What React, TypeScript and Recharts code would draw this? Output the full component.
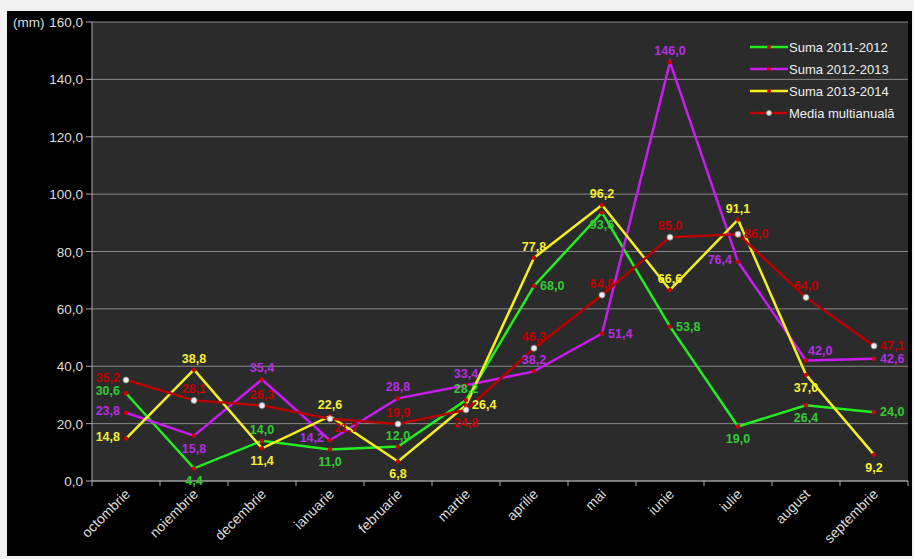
import React from 'react';
import { LineChart, Line, XAxis, YAxis, CartesianGrid, LabelList } from 'recharts';

const months = [
  'octombrie', 'noiembrie', 'decembrie', 'ianuarie', 'februarie', 'martie',
  'aprilie', 'mai', 'iunie', 'iulie', 'august', 'septembrie',
];
const suma20112012 = [30.6, 4.4, 14.0, 11.0, 12.0, 28.2, 68.0, 93.6, 53.8, 19.0, 26.4, 24.0];
const suma20122013 = [23.8, 15.8, 35.4, 14.2, 28.8, 33.4, 38.2, 51.4, 146.0, 76.4, 42.0, 42.6];
const suma20132014 = [14.8, 38.8, 11.4, 22.6, 6.8, 26.4, 77.8, 96.2, 66.6, 91.1, 37.0, 9.2];
const mediaMultianuala = [35.2, 28.1, 26.3, 21.7, 19.9, 24.8, 46.3, 64.8, 85.0, 86.0, 64.0, 47.1];
const yTicks = [0, 20, 40, 60, 80, 100, 120, 140, 160];

// where each value label sits around its point (t/b/l/r, tr = above right, br = below right)
type Pos = 't' | 'b' | 'l' | 'r' | 'tr' | 'br';
const greenPos: Pos[] = ['l', 'b', 't', 'b', 't', 't', 'r', 'b', 'r', 'b', 'b', 'r'];
const purplePos: Pos[] = ['l', 'b', 't', 'l', 't', 't', 't', 'r', 't', 'l', 'tr', 'r'];
const yellowPos: Pos[] = ['l', 't', 'b', 't', 'b', 'r', 't', 't', 't', 't', 'b', 'b'];
const redPos: Pos[] = ['l', 't', 't', 'br', 't', 'b', 't', 't', 't', 'r', 't', 'r'];

const data = months.map((m, i) => ({
  month: m,
  s1: suma20112012[i],
  s2: suma20122013[i],
  s3: suma20132014[i],
  media: mediaMultianuala[i],
}));

const FONT = '"Liberation Sans", Arial, sans-serif';
const fmt = (v: number) => v.toFixed(1).replace('.', ',');

const makeLabel = (color: string, pos: Pos[]) => (props: any) => {
  const { x, y, value, index } = props;
  const p = pos[index] ?? 't';
  let dx = 0;
  let dy = -7;
  let anchor: 'middle' | 'start' | 'end' = 'middle';
  if (p === 'b') dy = 17;
  if (p === 'l') { dx = -6; dy = 2; anchor = 'end'; }
  if (p === 'r') { dx = 6; dy = 4; anchor = 'start'; }
  if (p === 'tr') { dx = 2; dy = -6; anchor = 'start'; }
  if (p === 'br') { dx = 4; dy = 13; anchor = 'start'; }
  return (
    <text x={x + dx} y={y + dy} fill={color} fontSize={12.5} fontWeight="bold"
      textAnchor={anchor} fontFamily={FONT}>
      {fmt(value)}
    </text>
  );
};

const MonthTick = (props: any) => {
  const { x, y, payload, index } = props;
  return (
    <g>
      <line x1={x - 34} x2={x - 34} y1={y} y2={y + 5} stroke="#aaa" />
      {index === months.length - 1 && (
        <line x1={x + 34} x2={x + 34} y1={y} y2={y + 5} stroke="#aaa" />
      )}
      <text x={x + 5} y={y + 14} fill="#ddd" fontSize={14} fontFamily={FONT}
        textAnchor="end" transform={`rotate(-45 ${x + 5} ${y + 14})`}>
        {payload.value}
      </text>
    </g>
  );
};

const ValueTick = (props: any) => {
  const { x, y, payload } = props;
  return (
    <g>
      <text x={x} y={y + 5} fill="#ddd" fontSize={13.5} fontFamily={FONT} textAnchor="end">
        {fmt(payload.value)}
      </text>
      {payload.value === 160 && (
        <text x={13} y={y + 5} fill="#ddd" fontSize={13.5} fontFamily={FONT}>(mm)</text>
      )}
    </g>
  );
};

const series = [
  { name: 'Suma 2011-2012', color: '#22ee22', media: false },
  { name: 'Suma 2012-2013', color: '#c81cf0', media: false },
  { name: 'Suma 2013-2014', color: '#f5f01e', media: false },
  { name: 'Media multianuală', color: '#c00000', media: true },
];

const LegendBox = () => (
  <div style={{ position: 'absolute', left: 750, top: 36, fontFamily: FONT, fontSize: 13, color: '#eee' }}>
    {series.map((s) => (
      <div key={s.name} style={{ display: 'flex', alignItems: 'center', height: 22 }}>
        <svg width={38} height={10} style={{ marginRight: 1 }}>
          <line x1={0} x2={38} y1={5} y2={5} stroke={s.color} strokeWidth={2.5} />
          {s.media ? (
            <circle cx={19} cy={5} r={2.5} fill="#eee" stroke="#999" strokeWidth={0.8} />
          ) : (
            <circle cx={19} cy={5} r={2} fill="#d00000" />
          )}
        </svg>
        <span>{s.name}</span>
      </div>
    ))}
  </div>
);

const MediaDot = (props: any) => {
  const { cx, cy } = props;
  return <circle cx={cx} cy={cy} r={3} fill="#eee" stroke="#888" strokeWidth={0.8} />;
};

const App: React.FC = () => {
  return (
    <div style={{ position: 'absolute', left: 0, top: 0, width: 914, height: 559, background: '#f2f2f2' }}>
      <div style={{ position: 'absolute', left: 7, top: 11, width: 905, height: 545, background: '#000' }} />
      <div style={{ position: 'absolute', left: 0, top: 0 }}>
        <LineChart width={914} height={559} data={data}
          margin={{ top: 22, right: 6, left: 0, bottom: 0 }}>
          <CartesianGrid vertical={false} stroke="#8a8a8a" fill="#2b2b2b" />
          <XAxis dataKey="month" height={78} padding={{ left: 34, right: 34 }}
            axisLine={{ stroke: '#aaa' }} tickLine={false} tickSize={0} tickMargin={0}
            interval={0} tick={<MonthTick />} />
          <YAxis width={92} domain={[0, 160]} ticks={yTicks} axisLine={{ stroke: '#aaa' }}
            tickLine={{ stroke: '#aaa' }} tickSize={6} tickMargin={3} tick={<ValueTick />} />
          <Line dataKey="s1" name="Suma 2011-2012" stroke="#22ee22" strokeWidth={2.5}
            dot={{ r: 2.2, fill: '#d00000', stroke: 'none' }} isAnimationActive={false}>
            <LabelList dataKey="s1" content={makeLabel('#33cc33', greenPos)} />
          </Line>
          <Line dataKey="s2" name="Suma 2012-2013" stroke="#c81cf0" strokeWidth={2.5}
            dot={{ r: 2.2, fill: '#d00000', stroke: 'none' }} isAnimationActive={false}>
            <LabelList dataKey="s2" content={makeLabel('#b52ee0', purplePos)} />
          </Line>
          <Line dataKey="s3" name="Suma 2013-2014" stroke="#f5f01e" strokeWidth={2.5}
            dot={{ r: 2.2, fill: '#d00000', stroke: 'none' }} isAnimationActive={false}>
            <LabelList dataKey="s3" content={makeLabel('#f5f030', yellowPos)} />
          </Line>
          <Line dataKey="media" name="Media multianuală" stroke="#b80000" strokeWidth={2.5}
            dot={<MediaDot />} isAnimationActive={false}>
            <LabelList dataKey="media" content={makeLabel('#c00000', redPos)} />
          </Line>
        </LineChart>
      </div>
      <LegendBox />
    </div>
  );
};

export default App;
